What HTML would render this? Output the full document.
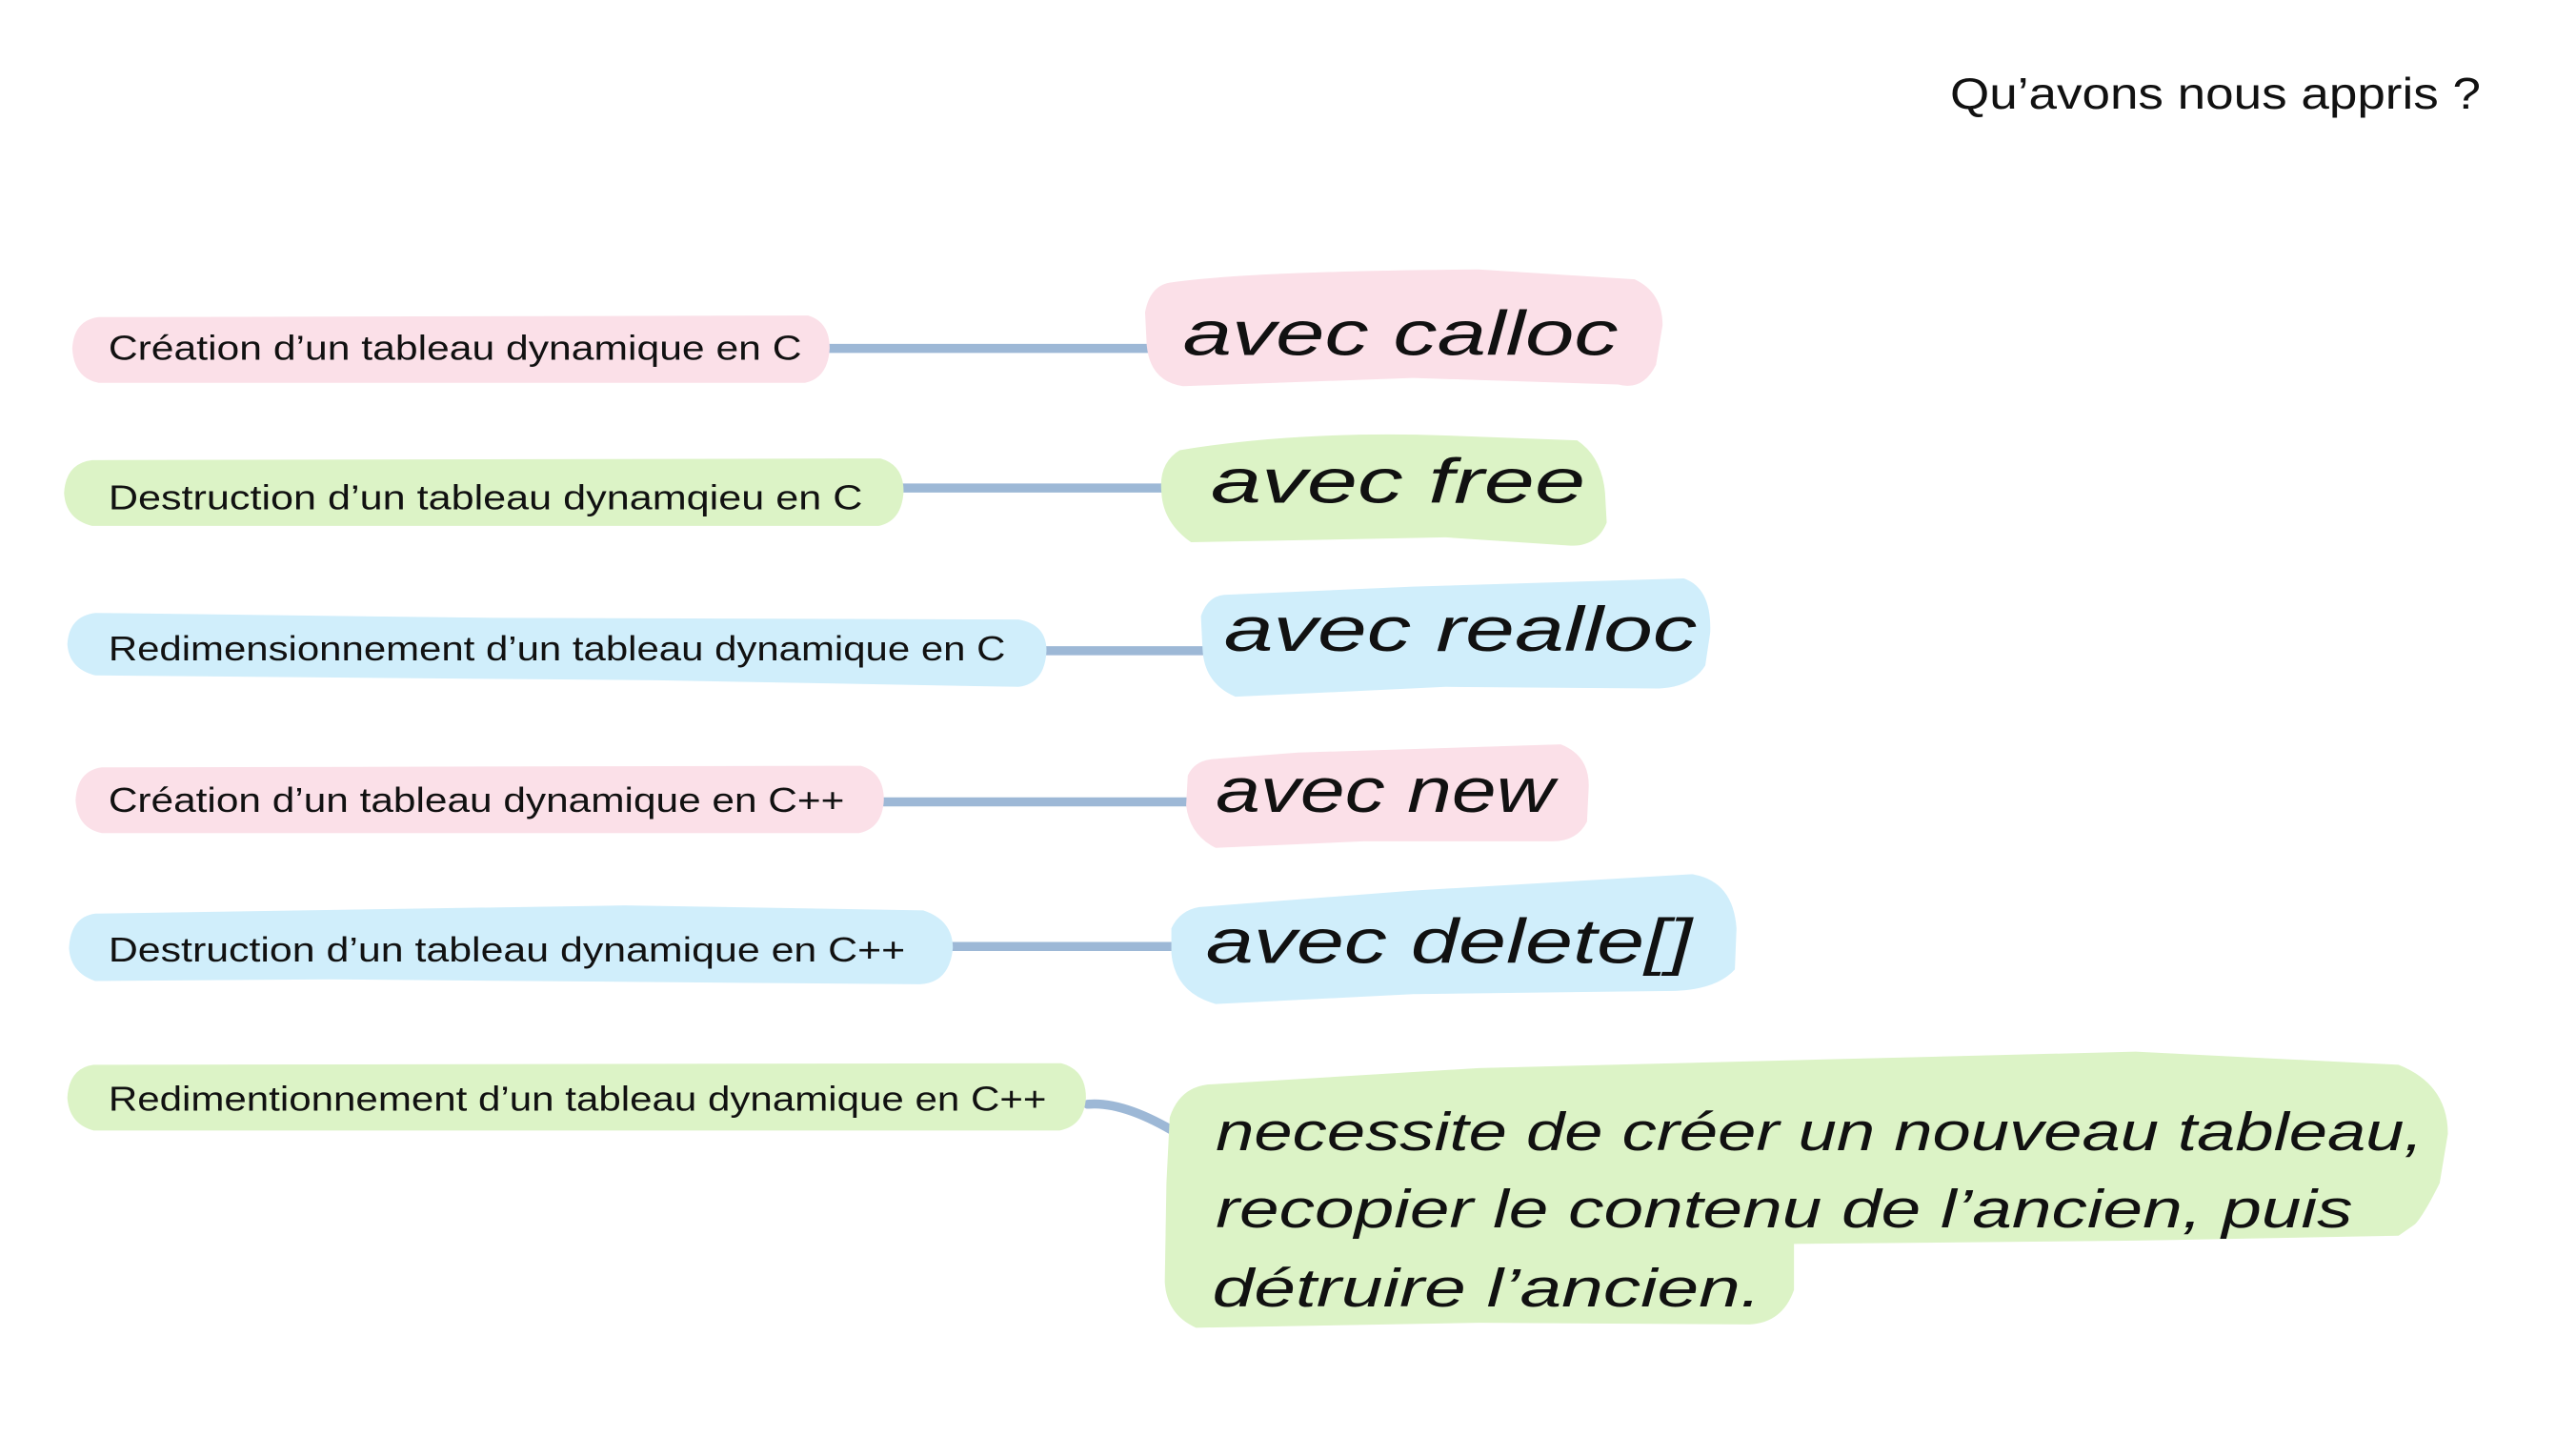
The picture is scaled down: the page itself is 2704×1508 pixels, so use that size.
<!DOCTYPE html>
<html><head><meta charset="utf-8"><style>
html,body{margin:0;padding:0;background:#fff;}
svg{display:block;}
text{font-family:"Liberation Sans",sans-serif;fill:#111;}
.l{font-size:21px;}
.h{font-size:38px;font-family:"Liberation Sans Narrow","Liberation Sans",sans-serif;font-style:italic;}
.hs{font-size:33px;font-family:"Liberation Sans Narrow","Liberation Sans",sans-serif;font-style:italic;}
</style></head><body>
<svg width="2704" height="1508" viewBox="0 0 1568 874.5" preserveAspectRatio="none" xmlns="http://www.w3.org/2000/svg">
<rect width="1568" height="875" fill="#fff"/>
<text x="1187" y="66" style="font-size:27px" textLength="323" lengthAdjust="spacingAndGlyphs">Qu’avons nous appris ?</text>

<g stroke="#9db8d6" stroke-width="5.5" stroke-linecap="round" fill="none">
<line x1="499" y1="212" x2="706" y2="212"/>
<line x1="548" y1="297" x2="708" y2="297"/>
<line x1="636" y1="396" x2="735" y2="396"/>
<line x1="538" y1="488" x2="724" y2="488"/>
<line x1="580" y1="576" x2="717" y2="576"/>
<path d="M662 672 Q684 670 717 690"/>
</g>

<path d="M60 193 L492 192 Q505 196 505 212 Q504 230 490 233 L60 233 Q45 230 44 212 Q45 195 60 193Z" fill="#fbe0e8"/>
<path d="M56 280 L536 279 Q550 283 550 299 Q549 317 535 320 L56 320 Q40 316 39 300 Q40 282 56 280Z" fill="#dcf3c6"/>
<path d="M58 373 L300 376 L620 377 Q637 380 637 396 Q636 416 620 418 L400 414 L58 411 Q42 407 41 392 Q42 375 58 373Z" fill="#d0eefb"/>
<path d="M62 467 L524 466 Q538 470 538 487 Q537 504 523 507 L62 507 Q47 504 46 487 Q47 469 62 467Z" fill="#fbe0e8"/>
<path d="M58 556 L380 551 L562 554 Q580 560 580 577 Q578 598 560 599 L200 596 L58 597 Q43 592 42 577 Q43 558 58 556Z" fill="#d0eefb"/>
<path d="M57 648 L646 647 Q661 651 661 668 Q660 685 645 688 L57 688 Q42 684 41 668 Q42 650 57 648Z" fill="#dcf3c6"/>

<text class="l" x="66" y="219" textLength="422" lengthAdjust="spacingAndGlyphs">Création d’un tableau dynamique en C</text>
<text class="l" x="66" y="310" textLength="459" lengthAdjust="spacingAndGlyphs">Destruction d’un tableau dynamqieu en C</text>
<text class="l" x="66" y="402" textLength="546" lengthAdjust="spacingAndGlyphs">Redimensionnement d’un tableau dynamique en C</text>
<text class="l" x="66" y="494" textLength="448" lengthAdjust="spacingAndGlyphs">Création d’un tableau dynamique en C++</text>
<text class="l" x="66" y="585" textLength="485" lengthAdjust="spacingAndGlyphs">Destruction d’un tableau dynamique en C++</text>
<text class="l" x="66" y="676" textLength="571" lengthAdjust="spacingAndGlyphs">Redimentionnement d’un tableau dynamique en C++</text>

<path d="M712 172 Q760 165 900 164 L995 170 Q1012 178 1012 198 L1008 222 Q1000 238 985 234 L860 230 L720 235 Q700 232 698 210 L697 190 Q700 174 712 172Z" fill="#fbe0e8"/>
<path d="M718 274 Q790 262 880 265 L960 268 Q975 278 977 300 L978 318 Q972 333 955 332 L880 327 L725 330 Q708 318 707 300 Q705 282 718 274Z" fill="#dcf3c6"/>
<path d="M745 362 L860 357 L1025 352 Q1042 358 1041 385 L1038 405 Q1030 418 1010 419 L880 418 L752 424 Q733 416 732 395 L731 375 Q735 363 745 362Z" fill="#d0eefb"/>
<path d="M738 462 L790 458 L950 453 Q968 460 967 480 L966 500 Q960 512 945 512 L830 512 L740 516 Q724 508 722 490 L723 472 Q727 463 738 462Z" fill="#fbe0e8"/>
<path d="M730 552 L860 542 L1030 532 Q1055 536 1057 565 L1056 590 Q1045 602 1020 603 L860 605 L740 611 Q715 604 713 580 L713 565 Q718 554 730 552Z" fill="#d0eefb"/>
<path d="M735 660 L900 650 L1100 645 L1300 640 L1460 648 Q1490 660 1490 690 L1485 720 Q1475 740 1470 745 L1460 752 L1300 755 L1092 757 L1092 785 Q1085 805 1065 806 L900 805 L728 808 Q710 800 709 780 L710 720 L712 680 Q718 662 735 660Z" fill="#dcf3c6"/>

<text class="h" x="720" y="216" textLength="265" lengthAdjust="spacingAndGlyphs">avec calloc</text>
<text class="h" x="737" y="306" textLength="228" lengthAdjust="spacingAndGlyphs">avec free</text>
<text class="h" x="745" y="396" textLength="288" lengthAdjust="spacingAndGlyphs">avec realloc</text>
<text class="h" x="740" y="494" textLength="206" lengthAdjust="spacingAndGlyphs">avec new</text>
<text class="h" x="734" y="586" textLength="296" lengthAdjust="spacingAndGlyphs">avec delete[]</text>
<text class="hs" x="740" y="700" textLength="735" lengthAdjust="spacingAndGlyphs">necessite de créer un nouveau tableau,</text>
<text class="hs" x="740" y="747" textLength="692" lengthAdjust="spacingAndGlyphs">recopier le contenu de l’ancien, puis</text>
<text class="hs" x="738" y="795" textLength="334" lengthAdjust="spacingAndGlyphs">détruire l’ancien.</text>
</svg>
</body></html>
